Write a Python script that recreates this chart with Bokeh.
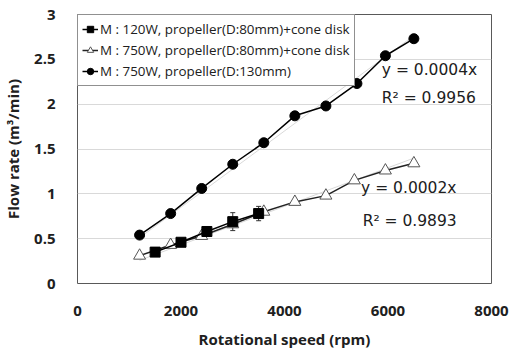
import numpy as np
from bokeh.plotting import figure
from bokeh.models import (Range1d, FixedTicker, Legend, LegendItem, Label,
                          ColumnDataSource, Whisker)
from bokeh.embed import file_html
from bokeh.resources import INLINE

# ---- data ----
rpm_120 = [1500, 2000, 2500, 3000, 3500]
flow_120 = [0.35, 0.46, 0.58, 0.69, 0.78]
err_120 = [0.0, 0.0, 0.0, 0.10, 0.08]

rpm_750_80 = [1200, 1800, 2400, 3000, 3600, 4200, 4800, 5350, 5950, 6500]
flow_750_80 = [0.31, 0.43, 0.53, 0.66, 0.80, 0.91, 0.98, 1.15, 1.26, 1.34]

rpm_750_130 = [1200, 1800, 2400, 3000, 3600, 4200, 4800, 5400, 5950, 6500]
flow_750_130 = [0.54, 0.78, 1.06, 1.33, 1.57, 1.87, 1.98, 2.23, 2.54, 2.73]

x_ticks = [0, 2000, 4000, 6000, 8000]
y_ticks = [0, 0.5, 1, 1.5, 2, 2.5, 3]
y_tick_labels = ["0", "0.5", "1", "1.5", "2", "2.5", "3"]

legend_labels = ["M : 120W, propeller(D:80mm)+cone disk",
                 "M : 750W, propeller(D:80mm)+cone disk",
                 "M : 750W, propeller(D:130mm)"]
eq_130 = ["y = 0.0004x", "R\u00b2 = 0.9956"]
eq_80 = ["y = 0.0002x", "R\u00b2 = 0.9893"]

FONT = "Open Sans"
EQ_FONT = "DejaVu Sans"

p = figure(width=512, height=351, output_backend="svg", toolbar_location=None,
           x_range=Range1d(0, 8000), y_range=Range1d(0, 3),
           min_border_left=73, min_border_right=21, min_border_top=14,
           min_border_bottom=65)

p.background_fill_color = "white"
p.border_fill_color = "white"
p.outline_line_color = "#595959"
p.outline_line_width = 1

p.xgrid.grid_line_color = None
p.ygrid.grid_line_color = "#d9d9d9"
p.ygrid.grid_line_width = 1

p.xaxis.ticker = FixedTicker(ticks=x_ticks)
p.yaxis.ticker = FixedTicker(ticks=y_ticks)
p.yaxis.major_label_overrides = {t: l for t, l in zip(y_ticks, y_tick_labels)}
for ax in (p.xaxis, p.yaxis):
    ax.axis_line_color = None
    ax.major_tick_line_color = None
    ax.minor_tick_line_color = None
    ax.major_label_text_font = FONT
    ax.major_label_text_font_size = "15px"
    ax.major_label_text_font_style = "bold"
    ax.major_label_text_color = "#202020"
    ax.major_label_standoff = 16
    ax.axis_label_text_font = FONT
    ax.axis_label_text_font_size = "15px"
    ax.axis_label_text_font_style = "bold"
    ax.axis_label_text_color = "#202020"
p.xaxis.axis_label = "Rotational speed (rpm)"
p.yaxis.axis_label = "Flow rate (m\u00b3/min)"
p.xaxis.axis_label_standoff = 10
p.yaxis.axis_label_standoff = 8

# trendlines (linear fit through origin)
def fit_line(xs, ys):
    xs = np.array(xs, float); ys = np.array(ys, float)
    k = (xs * ys).sum() / (xs * xs).sum()
    return [xs.min(), xs.max()], [k * xs.min(), k * xs.max()]

tx, ty = fit_line(rpm_750_130, flow_750_130)
p.line(tx, ty, line_color="#d9d9d9", line_width=1)
tx, ty = fit_line(rpm_750_80 + rpm_120, flow_750_80 + flow_120)
p.line(tx, ty, line_color="#d9d9d9", line_width=1)

# series
l2 = p.line(rpm_750_80, flow_750_80, line_color="#222222", line_width=1.5)
s2 = p.scatter(rpm_750_80, flow_750_80, marker="triangle", size=12,
               fill_color="white", line_color="#555555", line_width=1)

src120 = ColumnDataSource(dict(x=rpm_120, y=flow_120,
                               lo=[f - e for f, e in zip(flow_120, err_120)],
                               hi=[f + e for f, e in zip(flow_120, err_120)]))
w = Whisker(source=src120, base="x", lower="lo", upper="hi",
            line_color="#333333", line_width=1)
w.upper_head.size = 5
w.lower_head.size = 5
w.upper_head.line_color = "#333333"
w.lower_head.line_color = "#333333"
p.add_layout(w)
l1 = p.line("x", "y", source=src120, line_color="black", line_width=1.5)
s1 = p.scatter("x", "y", source=src120, marker="square", size=10,
               fill_color="black", line_color="black")

l3 = p.line(rpm_750_130, flow_750_130, line_color="black", line_width=1.5)
s3 = p.scatter(rpm_750_130, flow_750_130, marker="circle", size=10,
               fill_color="black", line_color="black")

legend = Legend(items=[LegendItem(label=legend_labels[0], renderers=[l1, s1]),
                       LegendItem(label=legend_labels[1], renderers=[l2, s2]),
                       LegendItem(label=legend_labels[2], renderers=[l3, s3])],
                location="top_left")
legend.margin = 0
legend.padding = 4
legend.spacing = 1
legend.label_height = 20
legend.glyph_height = 20
legend.glyph_width = 16
legend.label_standoff = 2
legend.label_text_font = FONT
legend.label_text_font_size = "13.4px"
legend.label_text_color = "#202020"
legend.border_line_color = "#222222"
legend.border_line_width = 1
legend.background_fill_alpha = 1.0
p.add_layout(legend)

for txt, (xx, yy) in zip(eq_130 + eq_80, [(5880, 2.38), (5880, 2.07),
                                          (5480, 1.06), (5510, 0.70)]):
    p.add_layout(Label(x=xx, y=yy, text=txt, text_font=EQ_FONT,
                       text_font_size="15.5px", text_color="#202020",
                       text_baseline="middle", text_align="left"))

open("out.html", "w").write(file_html(p, INLINE))
